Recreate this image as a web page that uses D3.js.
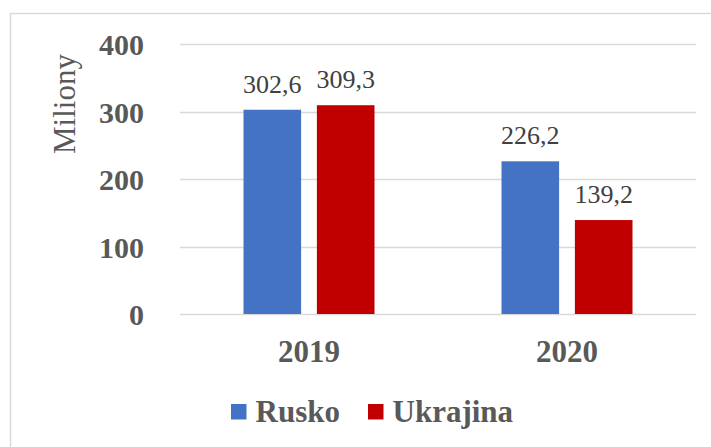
<!DOCTYPE html>
<html>
<head>
<meta charset="utf-8">
<script src="https://cdn.jsdelivr.net/npm/d3@7"></script>
<style>
  body { margin: 0; background: #fff; }
  svg { display: block; }
</style>
</head>
<body>
<script>
// data
var years = ['2019', '2020'];
var seriesNames = ['Rusko', 'Ukrajina'];
var rusko = [302.6, 226.2];
var ukrajina = [309.3, 139.2];
var valueLabels = [['302,6', '309,3'], ['226,2', '139,2']];
var yTicks = [0, 100, 200, 300, 400];

var colors = ['#4472C4', '#C00000'];
var width = 711, height = 447;
var serif = '"Liberation Serif", "Times New Roman", serif';

var svg = d3.select('body').append('svg')
  .attr('width', width)
  .attr('height', height);

// frame (cut off right and bottom like the picture)
svg.append('rect')
  .attr('x', 10.5).attr('y', 13.5)
  .attr('width', 740).attr('height', 460)
  .attr('fill', 'none')
  .attr('stroke', '#d9d9d9')
  .attr('stroke-width', 1.5);

var plotLeft = 180, plotRight = 696;

var y = d3.scaleLinear()
  .domain([0, 400])
  .range([314, 44]);

var x0 = d3.scaleBand()
  .domain(years)
  .range([plotLeft, plotRight]);

var x1 = d3.scaleBand()
  .domain(seriesNames)
  .range([0, 131])
  .paddingInner(0.215);

// gridlines
svg.append('g')
  .selectAll('line')
  .data(yTicks)
  .enter()
  .append('line')
    .attr('x1', plotLeft)
    .attr('x2', plotRight)
    .attr('y1', function(d) { return Math.round(y(d)) + 0.5; })
    .attr('y2', function(d) { return Math.round(y(d)) + 0.5; })
    .attr('stroke', '#d9d9d9')
    .attr('stroke-width', 1.5);

// y axis labels
var yAxis = d3.axisLeft(y).tickValues(yTicks).tickSize(0).tickPadding(0);
var yg = svg.append('g')
  .attr('transform', 'translate(144,0)')
  .call(yAxis);
yg.select('.domain').remove();
yg.selectAll('text')
  .attr('dy', '0.35em')
  .style('font-family', serif)
  .style('font-weight', 'bold')
  .style('font-size', '30px')
  .attr('fill', '#595959');

// axis title
svg.append('text')
  .attr('transform', 'translate(75,104) rotate(-90)')
  .attr('text-anchor', 'middle')
  .style('font-family', serif)
  .style('font-size', '31px')
  .attr('fill', '#595959')
  .text('Miliony');

// bars
var rows = years.map(function(yr, i) {
  return { year: yr, values: [rusko[i], ukrajina[i]], labels: valueLabels[i] };
});

var groups = svg.selectAll('.yearGroup')
  .data(rows)
  .enter()
  .append('g')
    .attr('class', 'yearGroup')
    .attr('transform', function(d) {
      return 'translate(' + (x0(d.year) + x0.bandwidth() / 2 - 65.5) + ',0)';
    });

groups.selectAll('rect')
  .data(function(d) {
    return d.values.map(function(v, j) { return { name: seriesNames[j], value: v, label: d.labels[j], color: colors[j] }; });
  })
  .enter()
  .append('rect')
    .attr('x', function(d) { return x1(d.name); })
    .attr('width', x1.bandwidth())
    .attr('y', function(d) { return y(d.value); })
    .attr('height', function(d) { return y(0) - y(d.value); })
    .attr('fill', function(d) { return d.color; });

groups.selectAll('.valLabel')
  .data(function(d) {
    return d.values.map(function(v, j) { return { name: seriesNames[j], value: v, label: d.labels[j] }; });
  })
  .enter()
  .append('text')
    .attr('class', 'valLabel')
    .attr('x', function(d) { return x1(d.name) + x1.bandwidth() / 2; })
    .attr('y', function(d) { return y(d.value) - 17; })
    .attr('text-anchor', 'middle')
    .style('font-family', serif)
    .style('font-size', '26px')
    .attr('fill', '#404040')
    .text(function(d) { return d.label; });

// x axis labels
var xAxis = d3.axisBottom(x0).tickSize(0).tickPadding(0);
var xg = svg.append('g')
  .attr('transform', 'translate(0,362)')
  .call(xAxis);
xg.select('.domain').remove();
xg.selectAll('text')
  .attr('dy', 0)
  .style('font-family', serif)
  .style('font-weight', 'bold')
  .style('font-size', '31px')
  .attr('fill', '#595959');

// legend
var legendX = [231, 368];
var legend = svg.selectAll('.legendItem')
  .data(seriesNames)
  .enter()
  .append('g')
    .attr('class', 'legendItem')
    .attr('transform', function(d, i) { return 'translate(' + legendX[i] + ',0)'; });

legend.append('rect')
  .attr('x', 0).attr('y', 404)
  .attr('width', 15.5).attr('height', 15.5)
  .attr('fill', function(d, i) { return colors[i]; });

legend.append('text')
  .attr('x', 24.5)
  .attr('y', 421.5)
  .style('font-family', serif)
  .style('font-weight', 'bold')
  .style('font-size', '31px')
  .attr('fill', '#595959')
  .text(function(d) { return d; });
</script>
</body>
</html>
